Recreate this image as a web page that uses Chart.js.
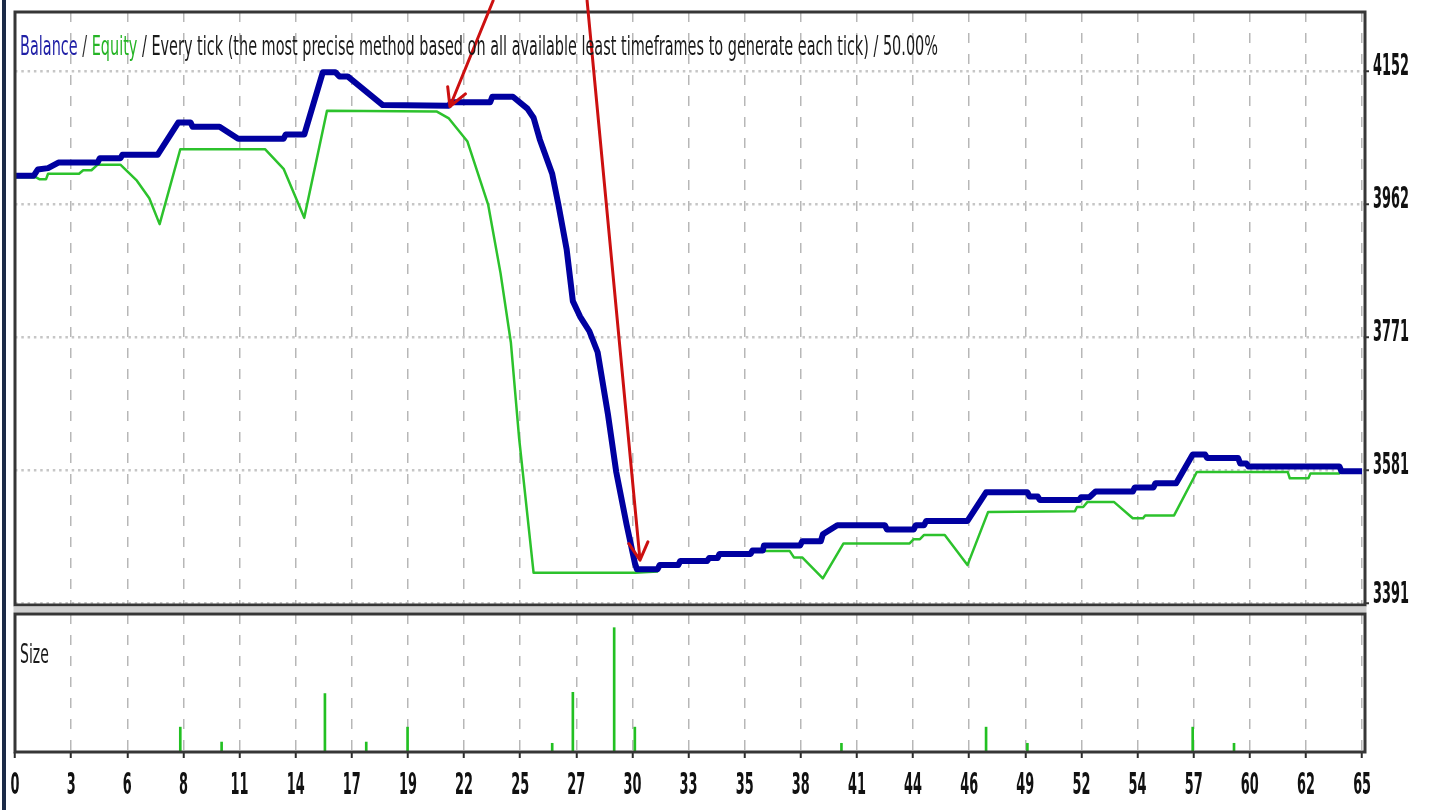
<!DOCTYPE html>
<html>
<head>
<meta charset="utf-8">
<title>Balance / Equity</title>
<script src="https://cdn.jsdelivr.net/npm/chart.js@4.4.1/dist/chart.umd.min.js"></script>
<style>
    html, body { margin: 0; padding: 0; background: #fff; }
    body { width: 1440px; height: 810px; position: relative; overflow: hidden; }
    #frame-edge { position: absolute; left: 2px; top: 0; width: 4px; height: 810px; background: #1b2a47; }
    #balance-chart { position: absolute; left: 0; top: 0; }
    #size-chart { position: absolute; left: 0; top: 600px; }
</style>
</head>
<body>
<div id="frame-edge"></div>
<canvas id="balance-chart" width="1440" height="612"></canvas>
<canvas id="size-chart" width="1440" height="210"></canvas>
<script>
// === DATA ===

// Balance curve: trade number -> account balance
const balanceTrade = [0, 0.9, 1.1, 1.6, 2.1, 4.0, 4.1, 5.1, 5.2, 6.9, 7.9, 8.5, 8.6, 9.9, 10.8, 13.0, 13.1, 14.0, 14.9, 15.5,
    15.7, 16.1, 17.8, 21.0, 21.1, 23.0, 23.1, 24.1, 24.8, 25.1, 25.4, 26.0, 26.3, 26.7, 27.0, 27.35, 27.8, 28.2, 28.7, 29.1,
    29.6, 30.0, 30.1, 31.1, 31.2, 32.1, 32.2, 33.5, 33.6, 34.0, 34.1, 35.6, 35.7, 36.2, 36.25, 38.0, 38.1, 39.0, 39.1, 39.8,
    42.1, 42.2, 43.5, 43.6, 44.0, 44.1, 46.1, 47.0, 49.0, 49.1, 49.5, 49.6, 51.5, 51.6, 52.0, 52.3, 54.1, 54.2, 55.1, 55.2,
    56.2, 57.0, 57.6, 57.7, 59.2, 59.3, 59.6, 59.7, 64.1, 64.2, 65.2];
const balanceValue = [4002, 4002, 4011, 4013, 4021, 4021, 4027, 4027, 4032, 4032, 4078, 4078, 4072, 4072, 4055, 4055, 4061, 4061, 4150, 4150,
    4144, 4144, 4103, 4102, 4107, 4107, 4115, 4115, 4098, 4085, 4054, 4005, 3961, 3897, 3823, 3801, 3780, 3750, 3661, 3579,
    3504, 3449, 3440, 3440, 3446, 3446, 3452, 3452, 3456, 3456, 3462, 3462, 3467, 3467, 3474, 3474, 3480, 3480, 3490, 3503,
    3503, 3497, 3497, 3503, 3503, 3509, 3509, 3550, 3550, 3544, 3544, 3539, 3539, 3543, 3543, 3551, 3551, 3557, 3557, 3563,
    3563, 3604, 3604, 3599, 3599, 3591, 3591, 3587, 3587, 3580, 3580];

// Equity curve: trade number -> floating equity
const equityTrade = [0, 1.0, 1.2, 1.5, 1.6, 3.1, 3.3, 3.7, 4.0, 5.1, 5.9, 6.5, 7.0, 8.0, 12.1, 13.0, 14.0, 15.1, 20.4, 21.0,
    21.9, 22.9, 23.5, 24.0, 24.4, 25.1, 30.0, 31.1, 31.2, 32.1, 32.2, 33.5, 33.6, 34.0, 34.1, 35.6, 35.7, 37.5, 37.7, 38.1,
    39.1, 40.1, 43.3, 43.5, 43.8, 44.0, 45.0, 46.1, 47.1, 51.3, 51.4, 51.7, 51.9, 53.2, 54.1, 54.6, 54.7, 56.1, 57.2, 61.6,
    61.7, 62.6, 62.7, 64.1, 64.2, 65.2];
const equityValue = [4000, 4000, 3997, 3997, 4005, 4005, 4010, 4010, 4018, 4018, 3995, 3970, 3933, 4040, 4040, 4012, 3942, 4095, 4094, 4084,
    4051, 3961, 3863, 3764, 3627, 3435, 3435, 3437, 3446, 3446, 3452, 3452, 3456, 3456, 3462, 3462, 3466, 3466, 3457, 3457,
    3427, 3477, 3477, 3483, 3483, 3489, 3489, 3446, 3522, 3523, 3529, 3529, 3536, 3536, 3513, 3513, 3517, 3517, 3579, 3579,
    3570, 3570, 3577, 3577, 3580, 3580];

// Lot size of each trade (lower panel)
const sizeTrade = [8, 10, 15, 17, 19, 26, 27, 29, 30, 40, 47, 49, 57, 59];
const sizeLots = [0.2, 0.08, 0.47, 0.08, 0.2, 0.07, 0.48, 1.0, 0.2, 0.07, 0.2, 0.07, 0.2, 0.07];

// Axis labels
const xTickLabels = ['0', '3', '6', '8', '11', '14', '17', '19', '22', '25', '27', '30', '33', '35', '38', '41', '44', '46', '49', '52', '54', '57', '60', '62', '65'];
const yTickValues = [3391, 3581, 3771, 3962, 4152];
const yTickLabels = ['3391', '3581', '3771', '3962', '4152'];

// Title pieces (text, colour)
const titleParts = [
    ['Balance', '#1f1fa6'],
    [' / ', '#333333'],
    ['Equity', '#25b425'],
    [' / Every tick (the most precise method based on all available least timeframes to generate each tick) / 50.00%', '#1a1a1a']
];

// Red annotation arrows, in data space (start -> tip)
const arrowFrom = [{ x: 23.14, y: 4252 }, { x: 27.69, y: 4252 }];
const arrowTo = [{ x: 21.05, y: 4101 }, { x: 30.25, y: 3453 }];

// === LAYOUT CONSTANTS ===
const X_MAX = 65.34;
const X_LAST_GRID = 65.2;
const FONT = '27px "DejaVu Sans", sans-serif';
const LABEL_FONT = 'bold 30px "DejaVu Sans", sans-serif';
const SQUEEZE = 0.52;
const LABEL_SQUEEZE = 0.43;
const TITLE_WIDTH = 918;

const xTickPos = xTickLabels.map((_, k) => k * X_LAST_GRID / (xTickLabels.length - 1));

// === HELPERS ===
function toPoints(xs, ys) {
    return xs.map((x, i) => ({ x: x, y: ys[i] }));
}

// draws text squeezed horizontally, like the upscaled tester font
function narrowText(ctx, text, x, y, scaleX, color, align) {
    ctx.save();
    ctx.translate(x, y);
    ctx.scale(scaleX, 1);
    ctx.fillStyle = color;
    ctx.textAlign = align || 'left';
    ctx.fillText(text, 0, 0);
    ctx.restore();
}

const panelFrame = {
    id: 'panelFrame',
    afterDraw(chart, args, opts) {
        const { ctx, chartArea: a } = chart;
        ctx.save();
        if (opts.gapAbove) {
            ctx.fillStyle = '#cfcfcf';
            ctx.fillRect(a.left - 1.5, a.top - 7.5, a.right - a.left + 3, 6);
        }
        ctx.strokeStyle = '#363636';
        ctx.lineWidth = 3;
        ctx.strokeRect(a.left, a.top, a.right - a.left, a.bottom - a.top);
        ctx.restore();
    }
};

// title, right-hand price labels and the two red arrows
const balanceTexts = {
    id: 'balanceTexts',
    afterDraw(chart) {
        const { ctx, chartArea: a, scales: { x, y } } = chart;
        ctx.save();

        // arrows
        ctx.strokeStyle = '#cc1010';
        ctx.lineWidth = 3;
        ctx.lineCap = 'round';
        ctx.lineJoin = 'round';
        arrowFrom.forEach((p, i) => {
            const x1 = x.getPixelForValue(p.x), y1 = y.getPixelForValue(p.y);
            const x2 = x.getPixelForValue(arrowTo[i].x), y2 = y.getPixelForValue(arrowTo[i].y);
            const ang = Math.atan2(y2 - y1, x2 - x1);
            ctx.beginPath();
            ctx.moveTo(x1, y1);
            ctx.lineTo(x2, y2);
            ctx.moveTo(x2 + 20 * Math.cos(ang + Math.PI - 0.5), y2 + 20 * Math.sin(ang + Math.PI - 0.5));
            ctx.lineTo(x2, y2);
            ctx.lineTo(x2 + 20 * Math.cos(ang + Math.PI + 0.5), y2 + 20 * Math.sin(ang + Math.PI + 0.5));
            ctx.stroke();
        });

        // title
        ctx.font = FONT;
        let natural = 0;
        titleParts.forEach(p => natural += ctx.measureText(p[0]).width);
        const sx = TITLE_WIDTH / natural;
        let cx = a.left + 5;
        ctx.textBaseline = 'alphabetic';
        titleParts.forEach(([txt, color]) => {
            narrowText(ctx, txt, cx, 55, sx, color);
            cx += ctx.measureText(txt).width * sx;
        });

        // price labels
        ctx.font = LABEL_FONT;
        ctx.textBaseline = 'middle';
        y.ticks.forEach((t, i) => {
            const py = Math.min(y.getPixelForTick(i) - 4, a.bottom - 10);
            narrowText(ctx, yTickLabels[i], a.right + 8, py, LABEL_SQUEEZE, '#111111');
        });
        ctx.restore();
    }
};

const sizeTexts = {
    id: 'sizeTexts',
    afterDraw(chart) {
        const { ctx, chartArea: a, scales: { x } } = chart;
        ctx.save();
        ctx.font = FONT;
        ctx.textBaseline = 'alphabetic';
        narrowText(ctx, 'Size', a.left + 5, a.top + 49, SQUEEZE, '#1a1a1a');
        ctx.font = LABEL_FONT;
        ctx.textBaseline = 'middle';
        x.ticks.forEach((t, i) => {
            narrowText(ctx, xTickLabels[i], x.getPixelForTick(i), a.bottom + 34, LABEL_SQUEEZE, '#111111', 'center');
        });
        ctx.restore();
    }
};

// === BALANCE / EQUITY PANEL ===
new Chart(document.getElementById('balance-chart'), {
    type: 'line',
    data: {
        datasets: [
            {
                label: 'Balance',
                data: toPoints(balanceTrade, balanceValue),
                borderColor: '#0000a0',
                borderWidth: 6,
                borderJoinStyle: 'round',
                pointRadius: 0,
                tension: 0
            },
            {
                label: 'Equity',
                data: toPoints(equityTrade, equityValue),
                borderColor: '#2cc22c',
                borderWidth: 2.5,
                borderJoinStyle: 'round',
                pointRadius: 0,
                tension: 0
            }
        ]
    },
    options: {
        responsive: false,
        animation: false,
        layout: { padding: { left: 15, top: 12, right: 0, bottom: 7 } },
        scales: {
            x: {
                type: 'linear', min: 0, max: X_MAX,
                afterBuildTicks: s => { s.ticks = xTickPos.map(v => ({ value: v })); },
                afterFit: s => { s.height = 0; },
                ticks: { display: false, autoSkip: false },
                grid: { color: '#b7b7b7', lineWidth: 1.5, drawTicks: false },
                border: { display: false, dash: [10, 11] }
            },
            y: {
                position: 'right', min: 3389, max: 4236,
                afterBuildTicks: s => { s.ticks = yTickValues.map(v => ({ value: v })); },
                afterFit: s => { s.width = 75; },
                ticks: { display: false },
                grid: { color: '#c6c6c6', lineWidth: 2.5, drawTicks: true, tickLength: 4, tickColor: '#333333', tickWidth: 2 },
                border: { display: false, dash: [2.5, 3.8] }
            }
        },
        plugins: {
            legend: { display: false },
            tooltip: { enabled: false },
            panelFrame: { gapAbove: false }
        }
    },
    plugins: [panelFrame, balanceTexts]
});

// === SIZE PANEL ===
new Chart(document.getElementById('size-chart'), {
    type: 'bar',
    data: {
        datasets: [{
            label: 'Size',
            data: toPoints(sizeTrade, sizeLots),
            backgroundColor: '#22c022',
            barThickness: 2
        }]
    },
    options: {
        responsive: false,
        animation: false,
        layout: { padding: { left: 15, top: 14, right: 0, bottom: 0 } },
        scales: {
            x: {
                type: 'linear', min: 0, max: X_MAX, offset: false,
                afterBuildTicks: s => { s.ticks = xTickPos.map(v => ({ value: v })); },
                afterFit: s => { s.height = 58; },
                ticks: { display: false, autoSkip: false },
                grid: { offset: false, color: '#b7b7b7', lineWidth: 1.5, drawTicks: true, tickLength: 6, tickColor: '#2a2a2a', tickWidth: 2 },
                border: { display: false, dash: [10, 11] }
            },
            y: {
                position: 'right', min: 0, max: 1.11,
                afterFit: s => { s.width = 75; },
                ticks: { display: false },
                grid: { display: false },
                border: { display: false }
            }
        },
        plugins: {
            legend: { display: false },
            tooltip: { enabled: false },
            panelFrame: { gapAbove: true }
        }
    },
    plugins: [panelFrame, sizeTexts]
});
</script>
</body>
</html>
